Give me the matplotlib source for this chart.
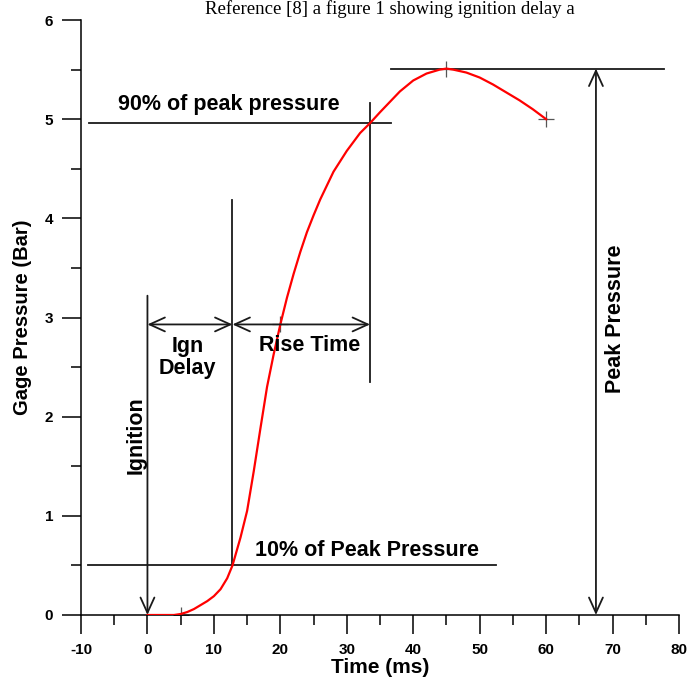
import matplotlib
matplotlib.use('Agg')
import matplotlib.pyplot as plt
from matplotlib.ticker import MultipleLocator

plt.rcParams['font.family'] = ['Liberation Sans', 'DejaVu Sans']
plt.rcParams['font.weight'] = 'bold'
plt.rcParams['axes.unicode_minus'] = False

# Pressure trace (ms, bar)
time_ms = [0, 2, 4, 5, 6, 7, 8, 9, 10, 11, 12, 12.8, 14, 15, 16, 17, 18,
           19, 20, 21, 22, 23, 24, 25, 26, 28, 30, 32, 33.5, 35, 36, 38, 40,
           42, 44, 45, 46, 48, 50, 52, 54, 56, 58, 60]
pressure_bar = [0, 0, 0, 0.01, 0.03, 0.06, 0.1, 0.14, 0.19, 0.26, 0.37, 0.5,
                0.78, 1.05, 1.45, 1.88, 2.3, 2.63, 2.93, 3.2, 3.44, 3.66, 3.86,
                4.03, 4.19, 4.47, 4.68, 4.86, 4.96, 5.07, 5.14, 5.28, 5.39,
                5.46, 5.5, 5.51, 5.5, 5.47, 5.42, 5.35, 5.27, 5.19, 5.1, 5.0]

# Sample markers along the trace
marker_t = [5, 20, 45, 60]
marker_p = [0.0, 2.93, 5.51, 5.0]

# Event times and pressure levels
t_ignition = 0
t_10pct = 12.8
t_90pct = 33.5
t_peak_arrow = 67.5
p_peak = 5.51
p_10pct = 0.5
p_90pct = 4.96
p_span_arrows = 2.93

fig = plt.figure(figsize=(6.88, 6.86), dpi=100)
ax = fig.add_axes([81 / 688, 71 / 686, 598 / 688, 595 / 686])

ax.plot(time_ms, pressure_bar, color='#ff0000', lw=1.6, zorder=3)
ax.plot(marker_t, marker_p, ls='none', marker='+', ms=11, mew=0.9,
        color='#555555', zorder=2)

line_kw = dict(color='#1a1a1a', lw=1.3, zorder=1)

# Reference levels
ax.plot([-8.8, 36.7], [p_90pct, p_90pct], **line_kw)
ax.plot([-9.0, 52.5], [p_10pct, p_10pct], **line_kw)
ax.plot([36.7, 77.7], [p_peak, p_peak], **line_kw)

# Vertical markers for the event times
ax.plot([t_10pct, t_10pct], [p_10pct, 4.18], **line_kw)
ax.plot([t_90pct, t_90pct], [2.35, 5.16], **line_kw)


def arrow(x0, y0, x1, y1, style='->'):
    ax.annotate('', xy=(x1, y1), xytext=(x0, y0),
                arrowprops=dict(arrowstyle=style + ',head_length=1.1,head_width=0.5',
                                mutation_scale=10, color='#1a1a1a', lw=1.3,
                                shrinkA=0, shrinkB=0))


arrow(t_ignition, 3.22, t_ignition, 0)
arrow(t_ignition, p_span_arrows, t_10pct, p_span_arrows, '<->')
arrow(t_10pct, p_span_arrows, t_90pct, p_span_arrows, '<->')
arrow(t_peak_arrow, 0, t_peak_arrow, p_peak, '<->')

txt_kw = dict(fontsize=15.5, fontweight='bold', ha='center', va='center')
ax.text(12.3, 5.15, '90% of peak pressure', **txt_kw)
ax.text(33.0, 0.65, '10% of Peak Pressure', **txt_kw)
ax.text(6.0, 2.6, 'Ign\nDelay', linespacing=1.05, **txt_kw)
ax.text(24.4, 2.72, 'Rise Time', **txt_kw)
ax.text(-1.7, 1.81, 'Ignition', rotation=90, **txt_kw)
ax.text(70.5, 2.99, 'Peak Pressure', rotation=90, **txt_kw)

ax.set_xlim(-10, 80)
ax.set_ylim(0, 6)
ax.xaxis.set_major_locator(MultipleLocator(10))
ax.xaxis.set_minor_locator(MultipleLocator(5))
ax.yaxis.set_major_locator(MultipleLocator(1))
ax.yaxis.set_minor_locator(MultipleLocator(0.5))
ax.tick_params(which='major', length=14, width=1.1, labelsize=11, pad=6)
ax.tick_params(which='minor', length=7.5, width=1.1)
for lbl in ax.get_xticklabels() + ax.get_yticklabels():
    lbl.set_fontweight('bold')

for side in ('top', 'right'):
    ax.spines[side].set_visible(False)
for side in ('left', 'bottom'):
    ax.spines[side].set_linewidth(1.1)

ax.set_xlabel('Time (ms)', fontsize=15, fontweight='bold', labelpad=1)
ax.set_ylabel('Gage Pressure (Bar)', fontsize=14.5, fontweight='bold', labelpad=9)

# Caption line running above the plot
fig.text(205 / 688, 1 - 14 / 686, 'Reference [8] a figure 1 showing ignition delay a',
         fontsize=13.5, family='Liberation Serif', fontweight='normal',
         ha='left', va='baseline')

fig.savefig('out.png', dpi=100)
